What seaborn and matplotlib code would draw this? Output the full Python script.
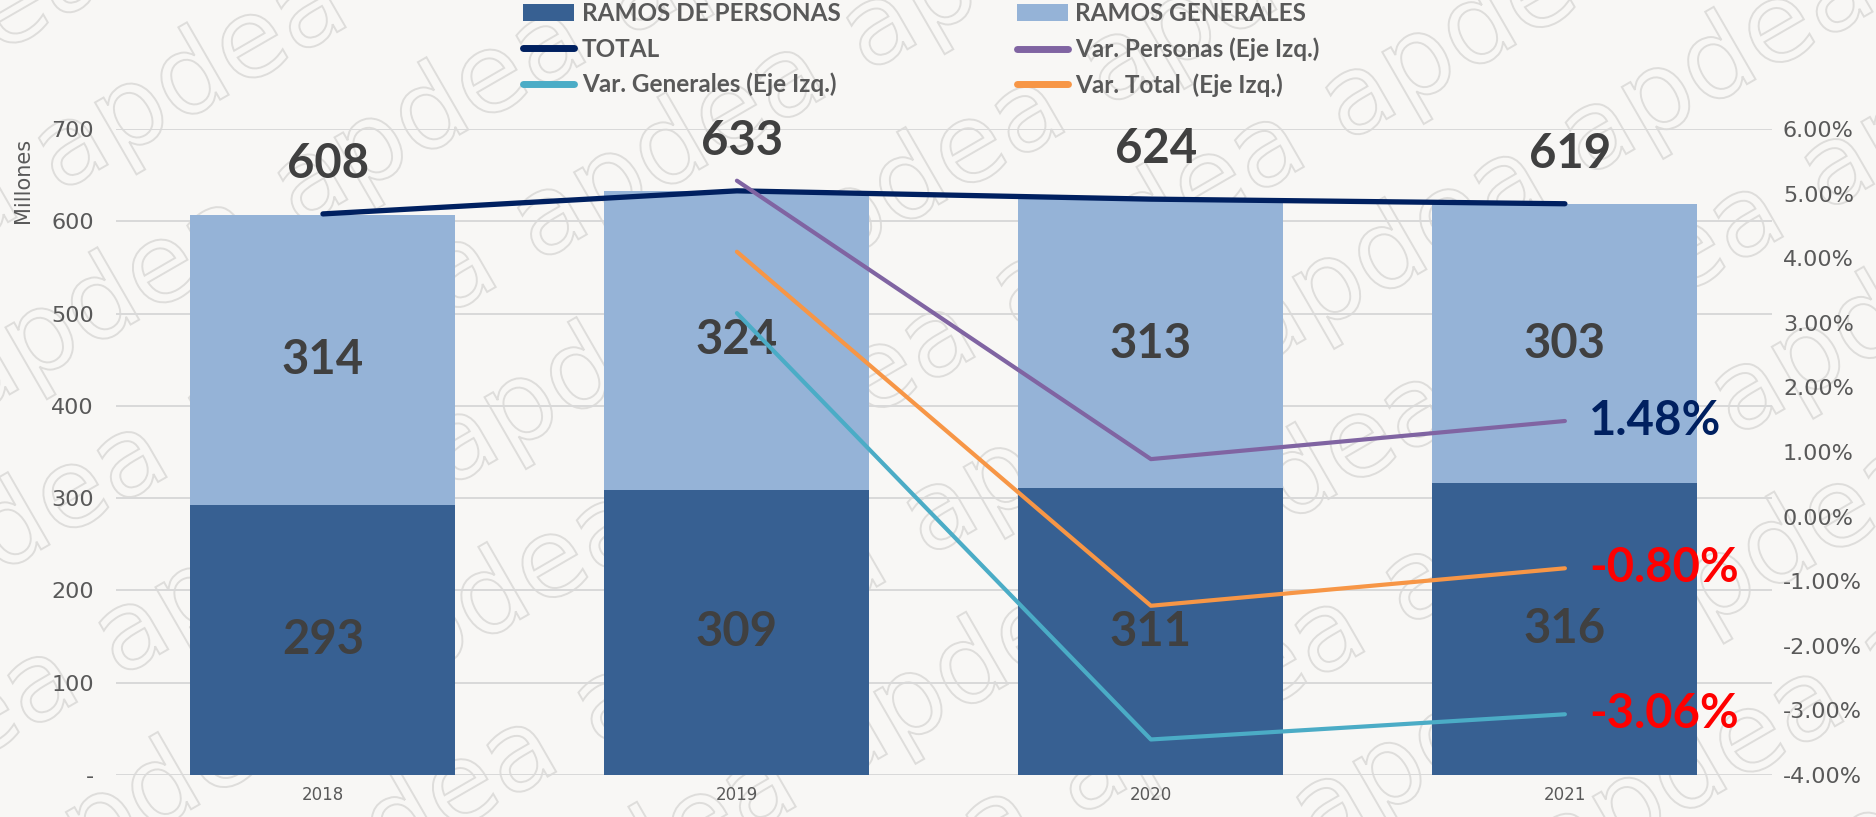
import numpy as np
import matplotlib.pyplot as plt
import seaborn as sns
from matplotlib import font_manager
from matplotlib.ticker import FuncFormatter, MultipleLocator
from matplotlib.textpath import TextPath
from matplotlib.patches import PathPatch
from matplotlib.transforms import Affine2D, IdentityTransform

# datos (millones y variaciones en %)
years = ["2018", "2019", "2020", "2021"]
personas = [293, 309, 311, 316]
generales = [314, 324, 313, 303]
total = [608, 633, 624, 619]
var_personas = [np.nan, 5.20, 0.89, 1.48]
var_generales = [np.nan, 3.15, -3.45, -3.06]
var_total = [np.nan, 4.10, -1.38, -0.80]

sns.set_style("white")
plt.rcParams["font.family"] = ["DejaVu Sans"]

bg = "#f8f7f5"
c_pers = "#376092"
c_gen = "#95b3d7"
c_tot = "#002060"
c_vp = "#8064a2"
c_vg = "#4bacc6"
c_vt = "#f79646"
grey = "#595959"
dark = "#404040"

fig = plt.figure(figsize=(18.76, 8.17), dpi=100, facecolor=bg)

# marca de agua "apdea" (contorno) detrás del gráfico
wm = TextPath((0, 0), "apdea", size=110, prop=font_manager.FontProperties(family="DejaVu Sans"))
ext = wm.get_extents()
ang = np.deg2rad(30)
u = np.array([np.cos(ang), np.sin(ang)])
v = np.array([-np.sin(ang), np.cos(ang)])
for i in range(-6, 10):
    for j in range(-12, 12):
        c = np.array([250.0, 250.0]) + i * 380 * u + j * 150 * v + (j % 2) * 190 * u
        if not (-300 < c[0] < 2200 and -300 < c[1] < 1150):
            continue
        tr = Affine2D().translate(-ext.x0 - ext.width / 2, -ext.y0 - ext.height / 2)
        tr = tr.rotate(ang).translate(c[0], c[1])
        fig.add_artist(PathPatch(tr.transform_path(wm), transform=IdentityTransform(),
                                 facecolor="none", edgecolor="#dedddb", lw=1.4, zorder=-5))

ax = fig.add_axes([0.0618, 0.0514, 0.8827, 0.7907])
ax.set_facecolor("none")
pos = np.arange(len(years))
stack = np.array(personas) + np.array(generales)

sns.barplot(x=years, y=stack, color=c_gen, saturation=1, width=0.64, ax=ax,
            label="RAMOS GENERALES", linewidth=0, zorder=2)
sns.barplot(x=years, y=personas, color=c_pers, saturation=1, width=0.64, ax=ax,
            label="RAMOS DE PERSONAS", linewidth=0, zorder=2)
sns.lineplot(x=pos, y=total, color=c_tot, lw=3.8, ax=ax, label="TOTAL",
             solid_capstyle="round", zorder=3)

ax.set_ylim(0, 700)
ax.set_xlim(-0.5, 3.5)
ax.yaxis.set_major_locator(MultipleLocator(100))
ax.yaxis.set_major_formatter(FuncFormatter(lambda v, p: "-" if v == 0 else f"{v:.0f}"))
ax.grid(axis="y", color="#d9d9d9", lw=1.4, zorder=0)
ax.set_axisbelow(True)
for s in ax.spines.values():
    s.set_visible(False)
ax.tick_params(axis="y", length=0, pad=16, labelsize=16, labelcolor=grey)
ax.tick_params(axis="x", length=0, pad=8, labelsize=12, labelcolor=grey)
ax.set_xlabel("")
ax.set_ylabel("Millones", fontsize=15, color=grey)
ax.yaxis.set_label_coords(-0.050, 0.92)

# etiquetas de segmentos y totales
for i in range(len(years)):
    ax.text(i, personas[i] / 2, f"{personas[i]}", ha="center", va="center",
            fontsize=34, fontweight="bold", color=dark, family="Lato", zorder=4)
    ax.text(i, personas[i] + generales[i] / 2, f"{generales[i]}", ha="center", va="center",
            fontsize=34, fontweight="bold", color=dark, family="Lato", zorder=4)
    ax.annotate(f"{total[i]}", (i, total[i]), xytext=(5, 50), textcoords="offset pixels",
                ha="center", va="center", fontsize=34, fontweight="bold", color=dark,
                family="Lato")

ax2 = ax.twinx()
ax2.set_facecolor("none")
sns.lineplot(x=pos, y=var_personas, color=c_vp, lw=3, ax=ax2,
             label="Var. Personas (Eje Izq.)", solid_capstyle="round")
sns.lineplot(x=pos, y=var_generales, color=c_vg, lw=3, ax=ax2,
             label="Var. Generales (Eje Izq.)", solid_capstyle="round")
sns.lineplot(x=pos, y=var_total, color=c_vt, lw=3, ax=ax2,
             label="Var. Total  (Eje Izq.)", solid_capstyle="round")
ax2.set_ylim(-4, 6)
ax2.set_xlim(-0.5, 3.5)
ax2.yaxis.set_major_locator(MultipleLocator(1))
ax2.yaxis.set_major_formatter(FuncFormatter(lambda v, p: f"{v:.2f}%"))
ax2.tick_params(axis="y", length=0, pad=8, labelsize=16, labelcolor=grey)
ax2.set_ylabel("")
for s in ax2.spines.values():
    s.set_visible(False)

for vals, col in [(var_personas, c_tot), (var_total, "#ff0000"), (var_generales, "#ff0000")]:
    ax2.annotate(f"{vals[-1]:.2f}%", (3, vals[-1]), xytext=(24, 0), textcoords="offset pixels",
                 ha="left", va="center", fontsize=34, fontweight="bold", color=col,
                 family="Lato")

# leyenda en dos columnas
h, l = ax.get_legend_handles_labels()
h2, l2 = ax2.get_legend_handles_labels()
hd = dict(zip(l + l2, h + h2))
for a in (ax, ax2):
    if a.get_legend() is not None:
        a.get_legend().remove()

col1 = ["RAMOS DE PERSONAS", "TOTAL", "Var. Generales (Eje Izq.)"]
col2 = ["RAMOS GENERALES", "Var. Personas (Eje Izq.)", "Var. Total  (Eje Izq.)"]
for cols, x0 in [(col1, 0.279), (col2, 0.542)]:
    leg = fig.legend([hd[n] for n in cols], cols, loc="upper left", bbox_to_anchor=(x0, 0.997),
                     frameon=False, prop=dict(family="Lato", weight="bold", size=17.5),
                     labelcolor=grey, handlelength=2.1, handletextpad=0.3, labelspacing=0.5,
                     borderpad=0, borderaxespad=0)
    for ln in leg.get_lines():
        ln.set_linewidth(5)
        ln.set_solid_capstyle("round")

fig.savefig("out.png", dpi=100, facecolor=bg)
